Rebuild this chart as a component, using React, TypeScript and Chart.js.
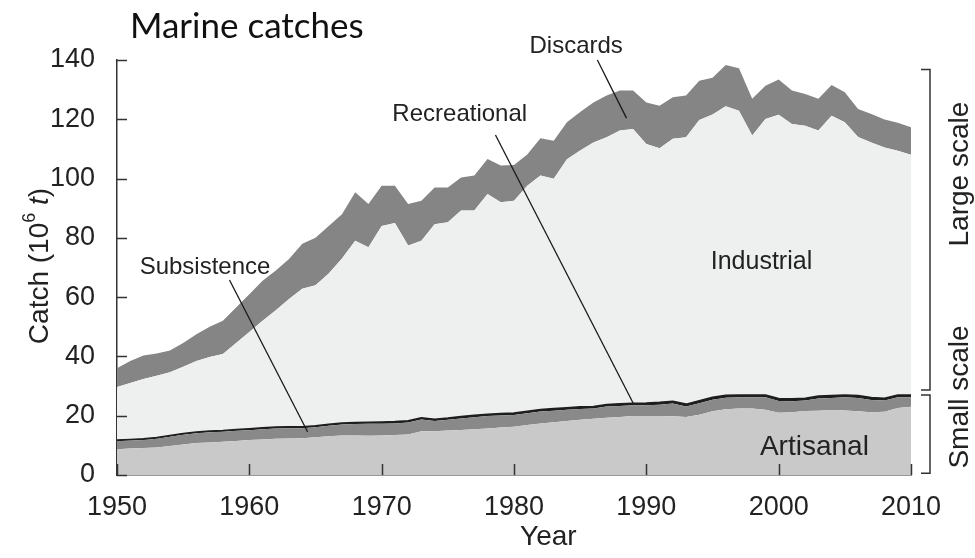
import React, { useEffect, useRef } from 'react';
import { Chart, registerables } from 'chart.js';
Chart.register(...registerables);

const years = [
  1950, 1951, 1952, 1953, 1954, 1955, 1956, 1957, 1958, 1959,
  1960, 1961, 1962, 1963, 1964, 1965, 1966, 1967, 1968, 1969,
  1970, 1971, 1972, 1973, 1974, 1975, 1976, 1977, 1978, 1979,
  1980, 1981, 1982, 1983, 1984, 1985, 1986, 1987, 1988, 1989,
  1990, 1991, 1992, 1993, 1994, 1995, 1996, 1997, 1998, 1999,
  2000, 2001, 2002, 2003, 2004, 2005, 2006, 2007, 2008, 2009,
  2010,
];

const artisanal = [
  8.7, 8.9, 9.1, 9.3, 9.8, 10.3, 10.8, 11.0, 11.2, 11.5,
  11.8, 12.0, 12.2, 12.3, 12.4, 12.7, 13.1, 13.3, 13.3, 13.2,
  13.3, 13.5, 13.7, 14.8, 14.8, 15.0, 15.2, 15.4, 15.7, 16.0,
  16.3, 16.9, 17.4, 17.8, 18.2, 18.6, 19.0, 19.3, 19.6, 19.9,
  19.9, 19.9, 19.8, 19.6, 20.3, 21.5, 22.2, 22.4, 22.4, 22.0,
  21.0, 21.2, 21.6, 21.7, 21.9, 21.8, 21.5, 21.2, 21.3, 22.6,
  23.0,
];

const subsistence = [
  2.7, 2.7, 2.7, 2.9, 3.1, 3.3, 3.3, 3.4, 3.4, 3.4,
  3.3, 3.4, 3.5, 3.5, 3.4, 3.4, 3.5, 3.7, 3.9, 4.1,
  4.0, 3.9, 4.0, 3.9, 3.4, 3.6, 3.9, 4.1, 4.2, 4.1,
  3.9, 3.9, 4.0, 3.9, 3.8, 3.7, 3.4, 3.8, 3.7, 3.6,
  3.6, 3.8, 4.3, 3.5, 3.9, 3.9, 3.9, 3.8, 3.8, 4.2,
  4.0, 3.7, 3.5, 4.1, 4.1, 4.4, 4.5, 4.1, 3.8, 3.6,
  3.2,
];

const recreational = [
  0.4, 0.4, 0.4, 0.4, 0.4, 0.4, 0.4, 0.4, 0.4, 0.4,
  0.5, 0.5, 0.5, 0.5, 0.5, 0.5, 0.5, 0.5, 0.5, 0.5,
  0.6, 0.6, 0.6, 0.6, 0.6, 0.6, 0.6, 0.6, 0.6, 0.6,
  0.7, 0.7, 0.7, 0.7, 0.7, 0.7, 0.7, 0.7, 0.7, 0.7,
  0.8, 0.8, 0.8, 0.8, 0.8, 0.8, 0.8, 0.8, 0.8, 0.8,
  0.8, 0.8, 0.8, 0.8, 0.8, 0.8, 0.8, 0.8, 0.8, 0.8,
  0.8,
];

const industrial = [
  17.9, 19.0, 20.2, 20.9, 21.4, 22.5, 24.0, 25.0, 25.8, 29.2,
  32.6, 36.1, 39.4, 43.1, 46.5, 47.4, 50.9, 55.5, 61.3, 59.0,
  66.1, 67.0, 59.1, 59.7, 65.8, 66.1, 69.5, 69.1, 74.3, 71.3,
  71.6, 76.1, 78.9, 77.5, 83.8, 86.5, 89.1, 90.1, 92.2, 92.5,
  87.4, 85.7, 88.5, 90.0, 94.8, 95.4, 97.5, 95.9, 87.5, 93.1,
  95.7, 92.7, 91.9, 89.6, 94.4, 92.0, 87.2, 86.1, 84.6, 82.4,
  81.0,
];

const discards = [
  6.3, 7.5, 7.9, 7.5, 7.3, 8.0, 9.0, 10.2, 11.2, 12.0,
  12.8, 13.5, 13.4, 13.5, 15.2, 16.0, 16.0, 15.0, 16.4, 14.6,
  13.6, 12.6, 14.0, 13.5, 12.4, 11.7, 11.2, 11.8, 11.8, 12.4,
  12.1, 10.5, 12.6, 12.9, 12.5, 13.0, 13.5, 14.1, 13.5, 13.0,
  14.0, 14.4, 14.0, 14.1, 13.2, 12.4, 13.9, 14.3, 12.4, 11.2,
  11.9, 11.3, 10.7, 10.7, 10.4, 10.1, 9.5, 9.6, 9.4, 9.4,
  9.3,
];

const yTickValues = [0, 20, 40, 60, 80, 100, 120, 140];
const xTickValues = [1950, 1960, 1970, 1980, 1990, 2000, 2010];

const FONT = '"Liberation Sans", Arial, Helvetica, sans-serif';
const INK = '#222222';

// Annotation labels, anchored in data coordinates (year, catch)
const annotations = [
  { text: 'Subsistence', at: [1956.65, 70.2], size: 24, line: [[1958.5, 65.8], [1964.4, 14.6]] },
  { text: 'Recreational', at: [1975.9, 121.5], size: 24, line: [[1978.6, 114.7], [1989.0, 24.3]] },
  { text: 'Discards', at: [1984.7, 144.7], size: 24, line: [[1986.3, 140.0], [1988.5, 120.4]] },
  { text: 'Industrial', at: [1998.7, 71.9], size: 25, line: null },
  { text: 'Artisanal', at: [2002.7, 9.4], size: 28, line: null },
];

function series(values: number[]) {
  return years.map((yr, i) => ({ x: yr, y: values[i] }));
}

const decorPlugin = {
  id: 'decor',
  afterDraw(chart: any) {
    const ctx = chart.ctx;
    const xs = chart.scales.x;
    const ys = chart.scales.y;
    const area = chart.chartArea;
    ctx.save();

    // inward tick marks
    ctx.strokeStyle = '#333';
    ctx.lineWidth = 1.5;
    ctx.beginPath();
    yTickValues.forEach((v) => {
      const py = Math.round(ys.getPixelForValue(v)) + 0.5;
      ctx.moveTo(area.left, py);
      ctx.lineTo(area.left + 10, py);
    });
    xTickValues.forEach((v) => {
      const px = Math.round(xs.getPixelForValue(v)) + 0.5;
      ctx.moveTo(px, area.bottom);
      ctx.lineTo(px, area.bottom - 11);
    });
    ctx.stroke();

    // annotations
    ctx.fillStyle = INK;
    ctx.textAlign = 'center';
    ctx.textBaseline = 'middle';
    annotations.forEach((a) => {
      ctx.font = `${a.size}px ${FONT}`;
      ctx.fillText(a.text, xs.getPixelForValue(a.at[0]), ys.getPixelForValue(a.at[1]));
      if (a.line) {
        ctx.beginPath();
        ctx.strokeStyle = '#1a1a1a';
        ctx.lineWidth = 1.3;
        ctx.moveTo(xs.getPixelForValue(a.line[0][0]), ys.getPixelForValue(a.line[0][1]));
        ctx.lineTo(xs.getPixelForValue(a.line[1][0]), ys.getPixelForValue(a.line[1][1]));
        ctx.stroke();
      }
    });

    // right-hand brackets
    const bx = area.right + 19;
    const stub = 9;
    ctx.strokeStyle = '#333';
    ctx.lineWidth = 1.5;
    const bracket = (top: number, bottom: number) => {
      const t = ys.getPixelForValue(top);
      const b = ys.getPixelForValue(bottom);
      ctx.beginPath();
      ctx.moveTo(bx - stub, t);
      ctx.lineTo(bx, t);
      ctx.lineTo(bx, b);
      ctx.lineTo(bx - stub, b);
      ctx.stroke();
    };
    bracket(136.8, 28.7);
    bracket(27.0, 0.6);

    const vText = (text: string, x: number, y: number, size: number) => {
      ctx.save();
      ctx.translate(x, y);
      ctx.rotate(-Math.PI / 2);
      ctx.font = `${size}px ${FONT}`;
      ctx.textAlign = 'center';
      ctx.textBaseline = 'middle';
      ctx.fillStyle = INK;
      ctx.fillText(text, 0, 0);
      ctx.restore();
    };
    vText('Large scale', area.right + 49, ys.getPixelForValue(101.5), 28);
    vText('Small scale', area.right + 49, ys.getPixelForValue(26.3), 28);

    // y axis title: Catch (10^6 t)
    {
      const size = 28;
      const parts: { t: string; font: string; dy: number }[] = [
        { t: 'Catch (10', font: `${size}px ${FONT}`, dy: 0 },
        { t: '6', font: `${Math.round(size * 0.65)}px ${FONT}`, dy: -10 },
        { t: ' ', font: `${size}px ${FONT}`, dy: 0 },
        { t: 't', font: `italic ${size}px ${FONT}`, dy: 0 },
        { t: ')', font: `${size}px ${FONT}`, dy: 0 },
      ];
      let total = 0;
      const widths = parts.map((p) => {
        ctx.font = p.font;
        const w = ctx.measureText(p.t).width;
        total += w;
        return w;
      });
      ctx.save();
      ctx.translate(40, ys.getPixelForValue(70.5));
      ctx.rotate(-Math.PI / 2);
      ctx.textAlign = 'left';
      ctx.textBaseline = 'middle';
      ctx.fillStyle = INK;
      let cx = -total / 2;
      parts.forEach((p, i) => {
        ctx.font = p.font;
        ctx.fillText(p.t, cx, p.dy);
        cx += widths[i];
      });
      ctx.restore();
    }

    // x axis title
    ctx.font = `28px ${FONT}`;
    ctx.textAlign = 'center';
    ctx.textBaseline = 'middle';
    ctx.fillStyle = INK;
    ctx.fillText('Year', xs.getPixelForValue(1982.6), area.bottom + 62);

    // chart title
    ctx.font = `35px Lato, "Open Sans", sans-serif`;
    ctx.textAlign = 'left';
    ctx.textBaseline = 'alphabetic';
    ctx.fillStyle = '#111';
    ctx.fillText('Marine catches', area.left + 13, 38);

    ctx.restore();
  },
};

export default function App() {
  const ref = useRef<HTMLCanvasElement | null>(null);

  useEffect(() => {
    if (!ref.current) return;
    const chart = new Chart(ref.current, {
      type: 'line',
      data: {
        datasets: [
          { label: 'Artisanal', data: series(artisanal), backgroundColor: '#c9c9c9', borderWidth: 0, fill: 'origin' },
          { label: 'Subsistence', data: series(subsistence), backgroundColor: '#898989', borderWidth: 0, fill: '-1' },
          { label: 'Recreational', data: series(recreational), backgroundColor: '#1e1e1e', borderColor: '#1e1e1e', borderWidth: 1.6, fill: '-1' },
          { label: 'Industrial', data: series(industrial), backgroundColor: '#eef0ef', borderWidth: 0, fill: '-1' },
          { label: 'Discards', data: series(discards), backgroundColor: '#858585', borderWidth: 0, fill: '-1' },
        ],
      },
      options: {
        animation: false,
        responsive: false,
        devicePixelRatio: 1,
        layout: { padding: { left: 0, top: 60, right: 64, bottom: 0 } },
        elements: { point: { radius: 0 }, line: { tension: 0 } },
        plugins: { legend: { display: false }, tooltip: { enabled: false }, title: { display: false } },
        scales: {
          x: {
            type: 'linear',
            min: 1950,
            max: 2010,
            grid: { display: false },
            border: { display: true, color: '#333', width: 1.5 },
            ticks: {
              stepSize: 10,
              color: INK,
              font: { family: FONT, size: 27 },
              padding: 8,
              maxRotation: 0,
              callback: (v: any) => String(v),
            },
            afterFit: (s: any) => { s.height = 83; },
          },
          y: {
            type: 'linear',
            stacked: true,
            min: 0,
            max: 140,
            grid: { display: false },
            border: { display: true, color: '#333', width: 1.5 },
            ticks: {
              stepSize: 20,
              color: INK,
              font: { family: FONT, size: 27 },
              padding: 14,
              callback: (v: any) => String(v),
            },
            afterFit: (s: any) => { s.width = 117; },
          },
        },
      },
      plugins: [decorPlugin],
    });
    return () => chart.destroy();
  }, []);

  return (
    <canvas
      ref={ref}
      width={975}
      height={558}
      style={{ position: 'absolute', left: 0, top: 0, width: 975, height: 558, background: '#fff' }}
    />
  );
}
